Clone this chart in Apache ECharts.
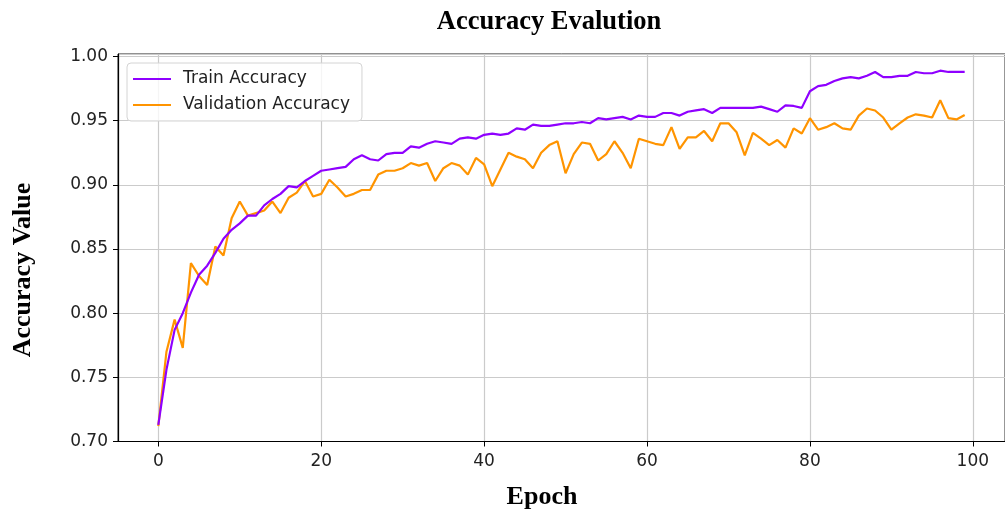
<!DOCTYPE html>
<html>
<head>
<meta charset="utf-8">
<script src="https://cdn.jsdelivr.net/npm/echarts@6/dist/echarts.min.js"></script>
<style>
  html, body { margin: 0; padding: 0; background: #fff; }
  #chart { width: 1005px; height: 515px; }
</style>
</head>
<body>
<div id="chart"></div>
<script>
// epoch index
const epochs = [
  0, 1, 2, 3, 4, 5, 6, 7, 8, 9,
  10, 11, 12, 13, 14, 15, 16, 17, 18, 19,
  20, 21, 22, 23, 24, 25, 26, 27, 28, 29,
  30, 31, 32, 33, 34, 35, 36, 37, 38, 39,
  40, 41, 42, 43, 44, 45, 46, 47, 48, 49,
  50, 51, 52, 53, 54, 55, 56, 57, 58, 59,
  60, 61, 62, 63, 64, 65, 66, 67, 68, 69,
  70, 71, 72, 73, 74, 75, 76, 77, 78, 79,
  80, 81, 82, 83, 84, 85, 86, 87, 88, 89,
  90, 91, 92, 93, 94, 95, 96, 97, 98, 99
];
// train accuracy
const trainAcc = [
  0.713, 0.756, 0.787, 0.800, 0.816, 0.830, 0.837, 0.847, 0.858, 0.865,
  0.870, 0.876, 0.876, 0.884, 0.889, 0.893, 0.899, 0.898, 0.903, 0.907,
  0.911, 0.912, 0.913, 0.914, 0.920, 0.923, 0.920, 0.919, 0.924, 0.925,
  0.925, 0.930, 0.929, 0.932, 0.934, 0.933, 0.932, 0.936, 0.937, 0.936,
  0.939, 0.940, 0.939, 0.940, 0.944, 0.943, 0.947, 0.946, 0.946, 0.947,
  0.948, 0.948, 0.949, 0.948, 0.952, 0.951, 0.952, 0.953, 0.951, 0.954,
  0.953, 0.953, 0.956, 0.956, 0.954, 0.957, 0.958, 0.959, 0.956, 0.960,
  0.960, 0.960, 0.960, 0.960, 0.961, 0.959, 0.957, 0.962, 0.9615, 0.960,
  0.973, 0.977, 0.978, 0.981, 0.983, 0.984, 0.983, 0.985, 0.988, 0.984,
  0.984, 0.985, 0.985, 0.988, 0.987, 0.987, 0.989, 0.988, 0.988, 0.988
];
// validation accuracy
const valAcc = [
  0.712, 0.770, 0.795, 0.773, 0.839, 0.829, 0.822, 0.852, 0.845, 0.874,
  0.887, 0.876, 0.878, 0.880, 0.887, 0.878, 0.890, 0.894, 0.903, 0.891,
  0.893, 0.904, 0.898, 0.891, 0.893, 0.896, 0.896, 0.908, 0.911, 0.911,
  0.913, 0.917, 0.915, 0.917, 0.903, 0.913, 0.917, 0.915, 0.908, 0.921,
  0.916, 0.899, 0.912, 0.925, 0.922, 0.920, 0.913, 0.925, 0.931, 0.934,
  0.909, 0.924, 0.933, 0.932, 0.919, 0.924, 0.934, 0.925, 0.913, 0.936,
  0.934, 0.932, 0.931, 0.945, 0.928, 0.937, 0.937, 0.942, 0.934, 0.948,
  0.948, 0.941, 0.923, 0.9405, 0.936, 0.931, 0.935, 0.929, 0.944, 0.940,
  0.952, 0.943, 0.945, 0.948, 0.944, 0.943, 0.954, 0.9595, 0.958, 0.9525,
  0.943, 0.948, 0.9525, 0.955, 0.954, 0.9525, 0.966, 0.952, 0.951, 0.9545
];

const myChart = echarts.init(document.getElementById('chart'));
const tickFont = { fontFamily: 'DejaVu Sans', fontSize: 17, color: '#222' };
const serifBold = 'bold 26px "Liberation Serif", "Times New Roman", serif';

const option = {
  animation: false,
  backgroundColor: '#fff',
  title: {
    text: 'Accuracy Evalution',
    left: 544,
    textAlign: 'center',
    top: 4,
    textStyle: {
      fontFamily: 'Liberation Serif',
      fontWeight: 'bold',
      fontSize: 26.5,
      color: '#000'
    }
  },
  graphic: [
    {
      type: 'text',
      x: 23,
      y: 270,
      rotation: Math.PI / 2,
      style: {
        text: 'Accuracy Value',
        font: serifBold,
        fill: '#000',
        textAlign: 'center',
        textVerticalAlign: 'middle'
      }
    },
    {
      type: 'text',
      x: 542,
      y: 497,
      style: {
        text: 'Epoch',
        font: serifBold,
        fill: '#000',
        textAlign: 'center',
        textVerticalAlign: 'middle'
      }
    }
  ],
  legend: {
    orient: 'vertical',
    left: 127,
    top: 63,
    padding: [7, 12, 7, 6],
    icon: 'rect',
    itemWidth: 38,
    itemHeight: 2,
    itemGap: 8,
    backgroundColor: 'rgba(255,255,255,0.8)',
    borderColor: '#d4d4d4',
    borderWidth: 1,
    borderRadius: 4,
    textStyle: {
      fontFamily: 'DejaVu Sans',
      fontSize: 17,
      lineHeight: 18,
      color: '#222',
      padding: [0, 0, 0, 7]
    },
    data: ['Train Accuracy', 'Validation Accuracy']
  },
  grid: {
    left: 118,
    top: 54,
    right: -6,
    bottom: 73.5,
    show: true,
    borderColor: '#222',
    borderWidth: 1,
    containLabel: false
  },
  xAxis: {
    type: 'value',
    min: -4.95,
    max: 103.95,
    splitNumber: 5,
    axisLine: { onZero: false, lineStyle: { color: '#000', width: 1.2 } },
    axisTick: { show: true, length: 5, lineStyle: { color: '#000' } },
    axisLabel: Object.assign({ margin: 12, showMinLabel: false, showMaxLabel: false }, tickFont),
    splitLine: { show: true, lineStyle: { color: '#cbcbcb', width: 1.2 } }
  },
  yAxis: {
    type: 'value',
    min: 0.7,
    max: 1.002,
    interval: 0.05,
    axisLine: { show: true, onZero: false, lineStyle: { color: '#000', width: 1.2 } },
    axisTick: { show: true, length: 5, lineStyle: { color: '#000' } },
    axisLabel: Object.assign({
      margin: 10,
      showMaxLabel: false,
      formatter: v => v.toFixed(2)
    }, tickFont),
    splitLine: { show: true, lineStyle: { color: '#cbcbcb', width: 1.2 } }
  },
  series: [
    {
      name: 'Train Accuracy',
      type: 'line',
      symbol: 'none',
      data: epochs.map((e, i) => [e, trainAcc[i]]),
      lineStyle: { color: '#8F00FF', width: 2.2 },
      itemStyle: { color: '#8F00FF' },
      z: 3
    },
    {
      name: 'Validation Accuracy',
      type: 'line',
      symbol: 'none',
      data: epochs.map((e, i) => [e, valAcc[i]]),
      lineStyle: { color: '#FF9400', width: 2.2 },
      itemStyle: { color: '#FF9400' },
      z: 2
    }
  ]
};
myChart.setOption(option);
</script>
</body>
</html>
